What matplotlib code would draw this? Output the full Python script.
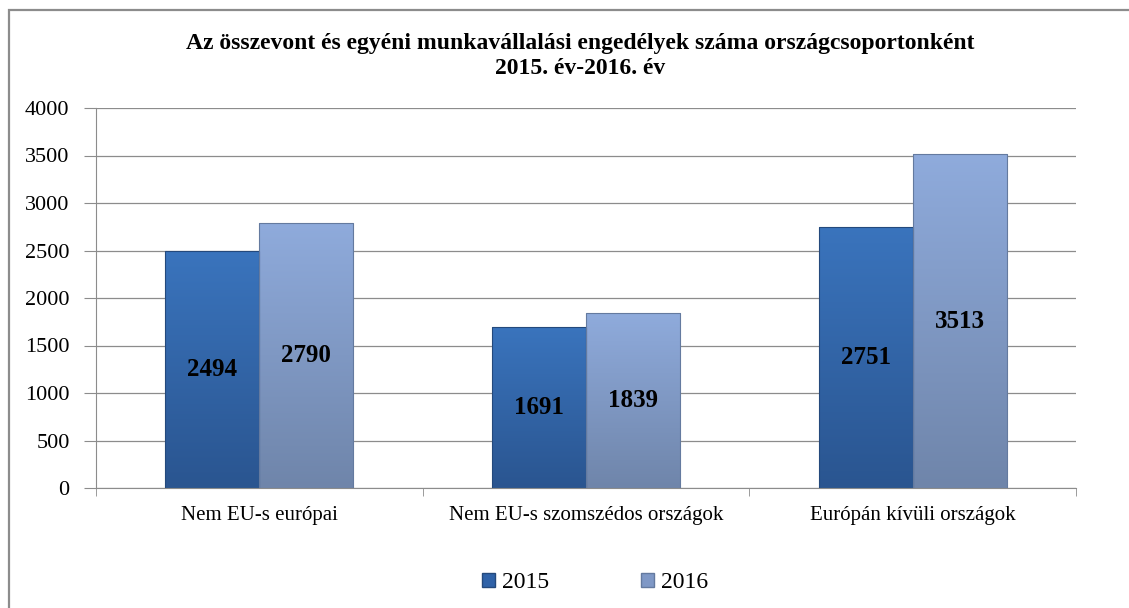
import numpy as np
import matplotlib
matplotlib.use("Agg")
import matplotlib.pyplot as plt
from matplotlib.colors import LinearSegmentedColormap
from matplotlib.patches import Rectangle

categories = ["Nem EU-s európai", "Nem EU-s szomszédos országok", "Európán kívüli országok"]
series_names = ["2015", "2016"]
values_2015 = [2494, 1691, 2751]
values_2016 = [2790, 1839, 3513]
yticks = [0, 500, 1000, 1500, 2000, 2500, 3000, 3500, 4000]

plt.rcParams['font.family'] = ['Liberation Serif', 'DejaVu Serif']

fig = plt.figure(figsize=(11.29, 6.08), dpi=100)
W, H = 1129, 608
ax = fig.add_axes([96 / W, 1 - 488 / H, (1076 - 96) / W, (488 - 108) / H])

# keret a diagram körül
fig.patches.append(Rectangle((9 / W, -0.1), 1.2, 1 - 10 / H + 0.1, transform=fig.transFigure,
                             fill=False, edgecolor='#8c8c8c', linewidth=1.6))

x = np.arange(len(categories))
bw = 0.288
grad_15 = LinearSegmentedColormap.from_list("g15", ["#2a5590", "#3a74bd"])
grad_16 = LinearSegmentedColormap.from_list("g16", ["#6f85aa", "#8fabdc"])

for vals, off, cmap, edge in [(values_2015, -bw / 2, grad_15, '#24497c'),
                              (values_2016, bw / 2, grad_16, '#647a9f')]:
    b = ax.bar(x + off, vals, width=bw, color='none', edgecolor=edge, linewidth=0.8, zorder=3)
    for rect in b:
        x0, y0 = rect.get_x(), rect.get_y()
        w, h = rect.get_width(), rect.get_height()
        grad = np.linspace(0, 1, 256).reshape(-1, 1)
        im = ax.imshow(grad, cmap=cmap, origin='lower', aspect='auto',
                       extent=(x0, x0 + w, y0, y0 + h), zorder=2)
        im.set_clip_path(rect)
        ax.text(x0 + w / 2, h / 2, f"{h:.0f}", ha='center', va='center',
                fontsize=18, fontweight='bold', zorder=4)

ax.set_xlim(-0.5, len(categories) - 0.5)
ax.set_ylim(0, 4000)
ax.set_yticks(yticks)
ax.set_yticklabels([str(t) for t in yticks], fontsize=16)
ax.set_xticks(x)
ax.set_xticklabels(categories, fontsize=15)
ax.tick_params(axis='x', length=0, pad=13)
ax.set_xticks(np.arange(-0.5, len(categories)), minor=True)
ax.tick_params(axis='x', which='minor', length=6, color='#8c8c8c', direction='out')
ax.tick_params(axis='y', length=9, color='#8c8c8c', pad=10)
ax.grid(axis='y', color='#8c8c8c', linewidth=0.9, zorder=0)
ax.set_axisbelow(True)
for s in ['top', 'right']:
    ax.spines[s].set_visible(False)
ax.spines['left'].set_color('#8c8c8c')
ax.spines['bottom'].set_color('#8c8c8c')

fig.text(580 / W, 1 - 43 / H, "Az összevont és egyéni munkavállalási engedélyek száma országcsoportonként",
         ha='center', va='center', fontsize=17, fontweight='bold')
fig.text(580 / W, 1 - 69 / H, "2015. év-2016. év",
         ha='center', va='center', fontsize=17, fontweight='bold')

handles = [Rectangle((0, 0), 1, 1, facecolor='#2f62a8', edgecolor='#24497c'),
           Rectangle((0, 0), 1, 1, facecolor='#7f98c6', edgecolor='#647a9f')]
fig.legend(handles, series_names, loc='center', bbox_to_anchor=(595 / W, 1 - 583 / H),
           ncol=2, frameon=False, fontsize=17, handlelength=0.55, handleheight=0.55,
           handletextpad=0.3, columnspacing=3.9)

fig.savefig("out.png", dpi=100)
